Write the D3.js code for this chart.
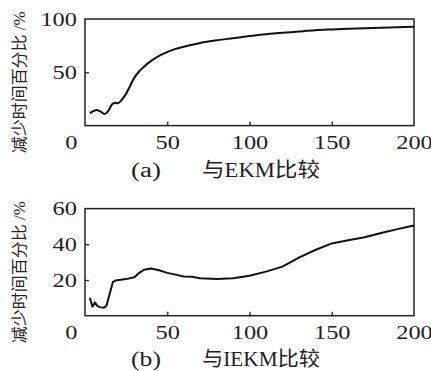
<!DOCTYPE html>
<html>
<head>
<meta charset="utf-8">
<script src="https://cdn.jsdelivr.net/npm/d3@7"></script>
<style>
  body { margin: 0; background: #fff; }
  text { fill: #222; }
</style>
</head>
<body>
<div id="chart"></div>
<script>
// number of nodes vs. reduced time percentage
var xTicks = [0, 50, 100, 150, 200];
var yTicksA = [50, 100];
var yTicksB = [20, 40, 60];
var yLabel = "减少时间百分比 /%";
var captionA = ["(a)", "与EKM比较"];
var captionB = ["(b)", "与IEKM比较"];

var vsEKM = [[3,11.5],[5,13.5],[7,14.6],[9,13.5],[12,11],[14,13.5],[16.5,20],[18,21.5],[20,21],
  [22,23.5],[25,30],[28,39],[30,45],[33,51],[36,55.5],[40,60.5],[45,65.5],[50,69],[55,72],[60,74],
  [70,77.5],[80,80],[90,82],[100,84],[110,85.8],[120,87],[130,88.3],[140,89.5],[150,90.2],
  [160,90.8],[170,91.3],[180,91.8],[190,92.3],[200,92.8]];

var vsIEKM = [[3,10],[4.5,5],[6,7.5],[7.5,5.5],[9,4.8],[11.5,4.5],[13,5.5],[17,19],[18.5,19.7],
  [25,20.5],[30,21.5],[33,24],[36,25.8],[40,26.5],[45,25.5],[50,24],[55,23],[60,22],[65,21.8],
  [70,21],[80,20.6],[90,21],[100,22.4],[110,24.7],[120,27.5],[130,32.5],[140,36.8],[150,40.5],
  [160,42.3],[170,44],[180,46.3],[190,48.5],[200,50.5]];

var width = 431, height = 371;
var numFont = "'Liberation Serif', 'Times New Roman', serif";
var cjkFont = "'Liberation Serif', 'Noto Sans CJK SC', serif";

var svg = d3.select("#chart").append("svg")
    .attr("width", width)
    .attr("height", height);

function panel(top, bottom, yMax, yTicks, data, curve, caption, capY) {
    var x = d3.scaleLinear().domain([0, 200]).range([85, 414]);
    var y = d3.scaleLinear().domain([0, yMax]).range([bottom, top]);

    var gx = svg.append("g")
        .attr("transform", "translate(0," + bottom + ")")
        .call(d3.axisBottom(x).tickValues(xTicks).tickSizeInner(-4).tickSizeOuter(0).tickPadding(10));

    var gy = svg.append("g")
        .attr("transform", "translate(85,0)")
        .call(d3.axisLeft(y).tickValues(yTicks).tickSizeInner(-4).tickSizeOuter(0).tickPadding(8));

    [gx, gy].forEach(function(g) {
        g.select(".domain").remove();
        g.selectAll(".tick line").attr("stroke", "#222").attr("stroke-width", 1.3);
        g.selectAll(".tick text")
            .style("font-family", numFont)
            .style("font-size", "19px")
            .attr("fill", "#222")
            .attr("textLength", function(d) { return String(d).length * 12.2; })
            .attr("lengthAdjust", "spacingAndGlyphs");
    });

    // the origin label sits left of the frame
    gx.selectAll(".tick text").filter(function(d) { return d === 0; })
        .attr("x", -8)
        .attr("text-anchor", "end");
    gx.selectAll(".tick line").filter(function(d) { return d === 0 || d === 200; }).remove();
    gy.selectAll(".tick line").filter(function(d) { return d === yMax; }).remove();

    svg.append("rect")
        .attr("x", x(0))
        .attr("y", top)
        .attr("width", x(200) - x(0))
        .attr("height", bottom - top)
        .attr("fill", "none")
        .attr("stroke", "#222")
        .attr("stroke-width", 1.5);

    var line = d3.line()
        .x(function(d) { return x(d[0]); })
        .y(function(d) { return y(d[1]); })
        .curve(curve);

    svg.append("path")
        .datum(data)
        .attr("d", line)
        .attr("fill", "none")
        .attr("stroke", "#111")
        .attr("stroke-width", 2)
        .attr("stroke-linejoin", "round");

    svg.append("text")
        .text(yLabel)
        .attr("transform", "translate(25," + ((top + bottom) / 2 + 10) + ") rotate(-90)")
        .attr("text-anchor", "middle")
        .style("font-family", cjkFont)
        .style("font-size", "16px")
        .attr("textLength", 142)
        .attr("lengthAdjust", "spacingAndGlyphs");

    svg.append("text")
        .text(caption[0])
        .attr("x", 131)
        .attr("y", capY)
        .style("font-family", numFont)
        .style("font-size", "20px")
        .attr("textLength", 30)
        .attr("lengthAdjust", "spacingAndGlyphs");

    svg.append("text")
        .text(caption[1])
        .attr("x", 202)
        .attr("y", capY)
        .style("font-family", cjkFont)
        .style("font-size", "20px")
        .attr("textLength", 118)
        .attr("lengthAdjust", "spacingAndGlyphs");
}

panel(19, 125.6, 100, yTicksA, vsEKM, d3.curveCatmullRom, captionA, 177);
panel(208.6, 315.7, 60, yTicksB, vsIEKM, d3.curveLinear, captionB, 366);
</script>
</body>
</html>
